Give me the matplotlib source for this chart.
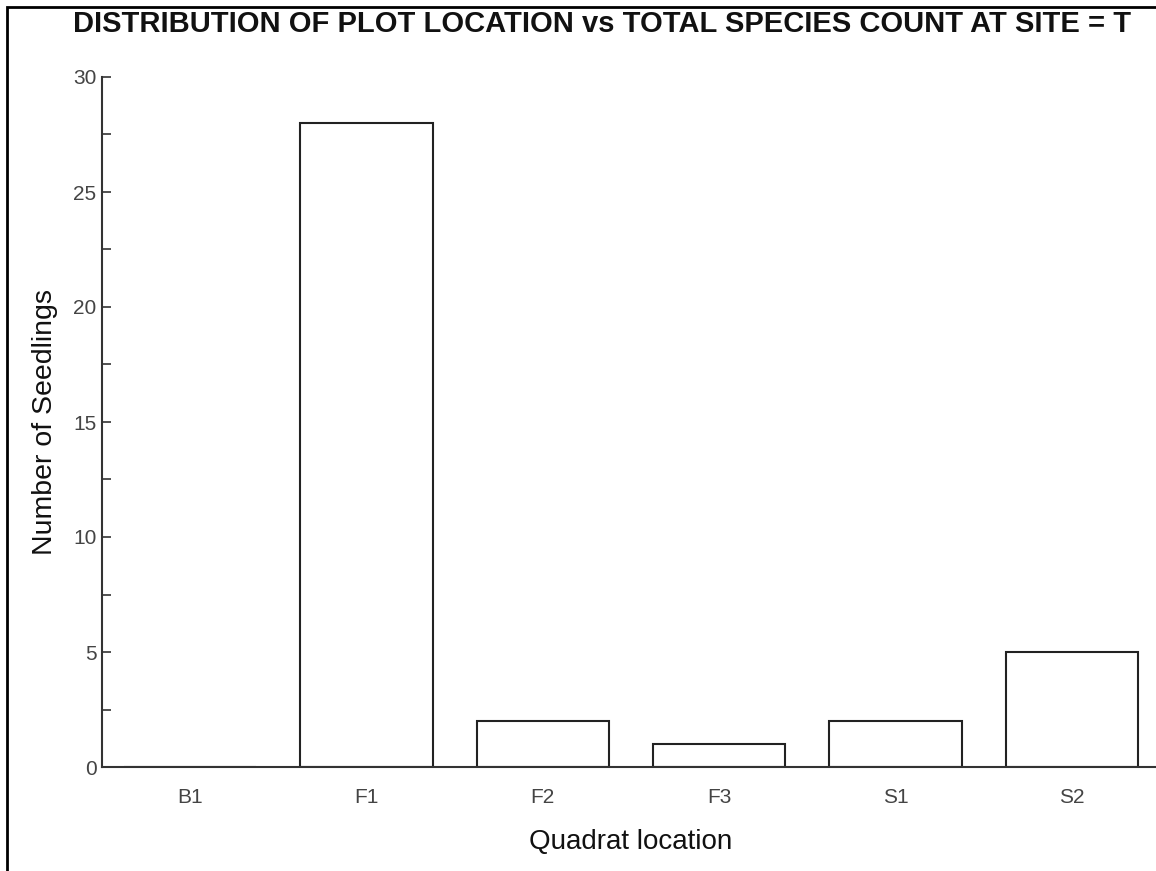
import matplotlib
matplotlib.use("Agg")
import matplotlib.pyplot as plt
from matplotlib.patches import Rectangle
from matplotlib.ticker import MultipleLocator

# Seedling counts per quadrat location
locations = ["B1", "F1", "F2", "F3", "S1", "S2"]
seedlings = [0, 28, 2, 1, 2, 5]

W, H = 1156, 871
fig = plt.figure(figsize=(W / 100, H / 100), dpi=100)
plt.rcParams["font.family"] = ["Liberation Sans", "DejaVu Sans"]

left, right, bottom, top = 102, 1160, 767, 77
ax = fig.add_axes([left / W, 1 - bottom / H, (right - left) / W, (bottom - top) / H])

x = range(len(locations))
ax.bar(x, seedlings, width=0.75, facecolor="white", edgecolor="#222222", linewidth=1.5)

ax.set_xlim(-0.5, len(locations) - 0.5)
ax.set_ylim(0, 30)
ax.set_xticks(list(x))
ax.set_xticklabels(locations)
ax.yaxis.set_major_locator(MultipleLocator(5))
ax.yaxis.set_minor_locator(MultipleLocator(2.5))

for side in ("top", "right"):
    ax.spines[side].set_visible(False)
for side in ("left", "bottom"):
    ax.spines[side].set_color("#333333")
    ax.spines[side].set_linewidth(1.5)

ax.tick_params(axis="y", which="both", direction="in", length=6.5, width=1.2,
               color="#333333", labelsize=15, labelcolor="#444444", pad=4)
ax.tick_params(axis="x", length=0, labelsize=15, labelcolor="#444444", pad=15)

ax.set_xlabel("Quadrat location", fontsize=20, labelpad=16, color="#111111")
ax.set_ylabel("Number of Seedlings", fontsize=20.5, labelpad=11, color="#111111")

fig.text(602 / W, 1 - 24 / H, "DISTRIBUTION OF PLOT LOCATION vs TOTAL SPECIES COUNT AT SITE = T",
         ha="center", va="center", fontsize=21, fontweight="bold", color="#111111")

# Outer frame
fig.patches.append(Rectangle((7 / W, -0.1), 1.2, 1.1 - 7 / H, transform=fig.transFigure,
                             fill=False, edgecolor="black", linewidth=2))

fig.savefig("out.png", dpi=100)
